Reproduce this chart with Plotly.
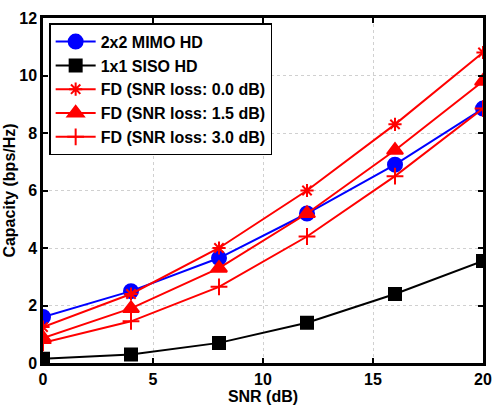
import plotly.graph_objects as go

snr = [0, 4, 8, 12, 16, 20]
mimo_hd = [1.6, 2.5, 3.65, 5.2, 6.9, 8.85]
siso_hd = [0.15, 0.3, 0.7, 1.4, 2.4, 3.55]
fd_00 = [1.25, 2.4, 4.0, 6.0, 8.3, 10.8]
fd_15 = [0.87, 1.9, 3.3, 5.2, 7.4, 9.8]
fd_30 = [0.7, 1.45, 2.65, 4.4, 6.5, 8.85]

series = [
    ("2x2 MIMO HD", mimo_hd, "#0000ff", "circle", 14),
    ("1x1 SISO HD", siso_hd, "#000000", "square", 12),
    ("FD (SNR loss: 0.0 dB)", fd_00, "#ff0000", "asterisk-open", 11),
    ("FD (SNR loss: 1.5 dB)", fd_15, "#ff0000", "triangle-up", 14),
    ("FD (SNR loss: 3.0 dB)", fd_30, "#ff0000", "cross-thin-open", 12),
]

fig = go.Figure()
for name, ys, col, sym, sz in series:
    fig.add_trace(go.Scatter(
        x=snr, y=ys, name=name, mode="lines+markers",
        line=dict(color=col, width=2),
        marker=dict(symbol=sym, size=sz, color=col, line=dict(color=col, width=2)),
    ))

font = dict(family="Liberation Sans, Arial, sans-serif", size=16, color="black", weight="bold")

axis_common = dict(
    showline=True, linecolor="black", linewidth=2.5, mirror="ticks",
    ticks="inside", ticklen=5, tickwidth=1.5, tickcolor="black",
    showgrid=True, gridcolor="#d0d0d0", griddash="dot", gridwidth=1,
    zeroline=False, tickfont=font, automargin=False,
)

fig.update_layout(
    width=496, height=420,
    margin=dict(l=43, r=13, t=18, b=57),
    plot_bgcolor="white", paper_bgcolor="white",
    font=font,
    showlegend=True,
    legend=dict(
        x=0.014, y=0.985, xanchor="left", yanchor="top",
        bordercolor="black", borderwidth=1.5, bgcolor="white",
        font=dict(family="Liberation Sans, Arial, sans-serif", size=16, color="black", weight="bold"),
        itemwidth=40, tracegroupgap=0,
    ),
    xaxis=dict(range=[0, 20], tickvals=[0, 5, 10, 15, 20],
               title=dict(text="SNR (dB)", font=font, standoff=4), **axis_common),
    yaxis=dict(range=[0, 12], tickvals=[0, 2, 4, 6, 8, 10, 12],
               title=dict(text="Capacity (bps/Hz)", font=font, standoff=0), **axis_common),
)

fig.write_html("out.html")
